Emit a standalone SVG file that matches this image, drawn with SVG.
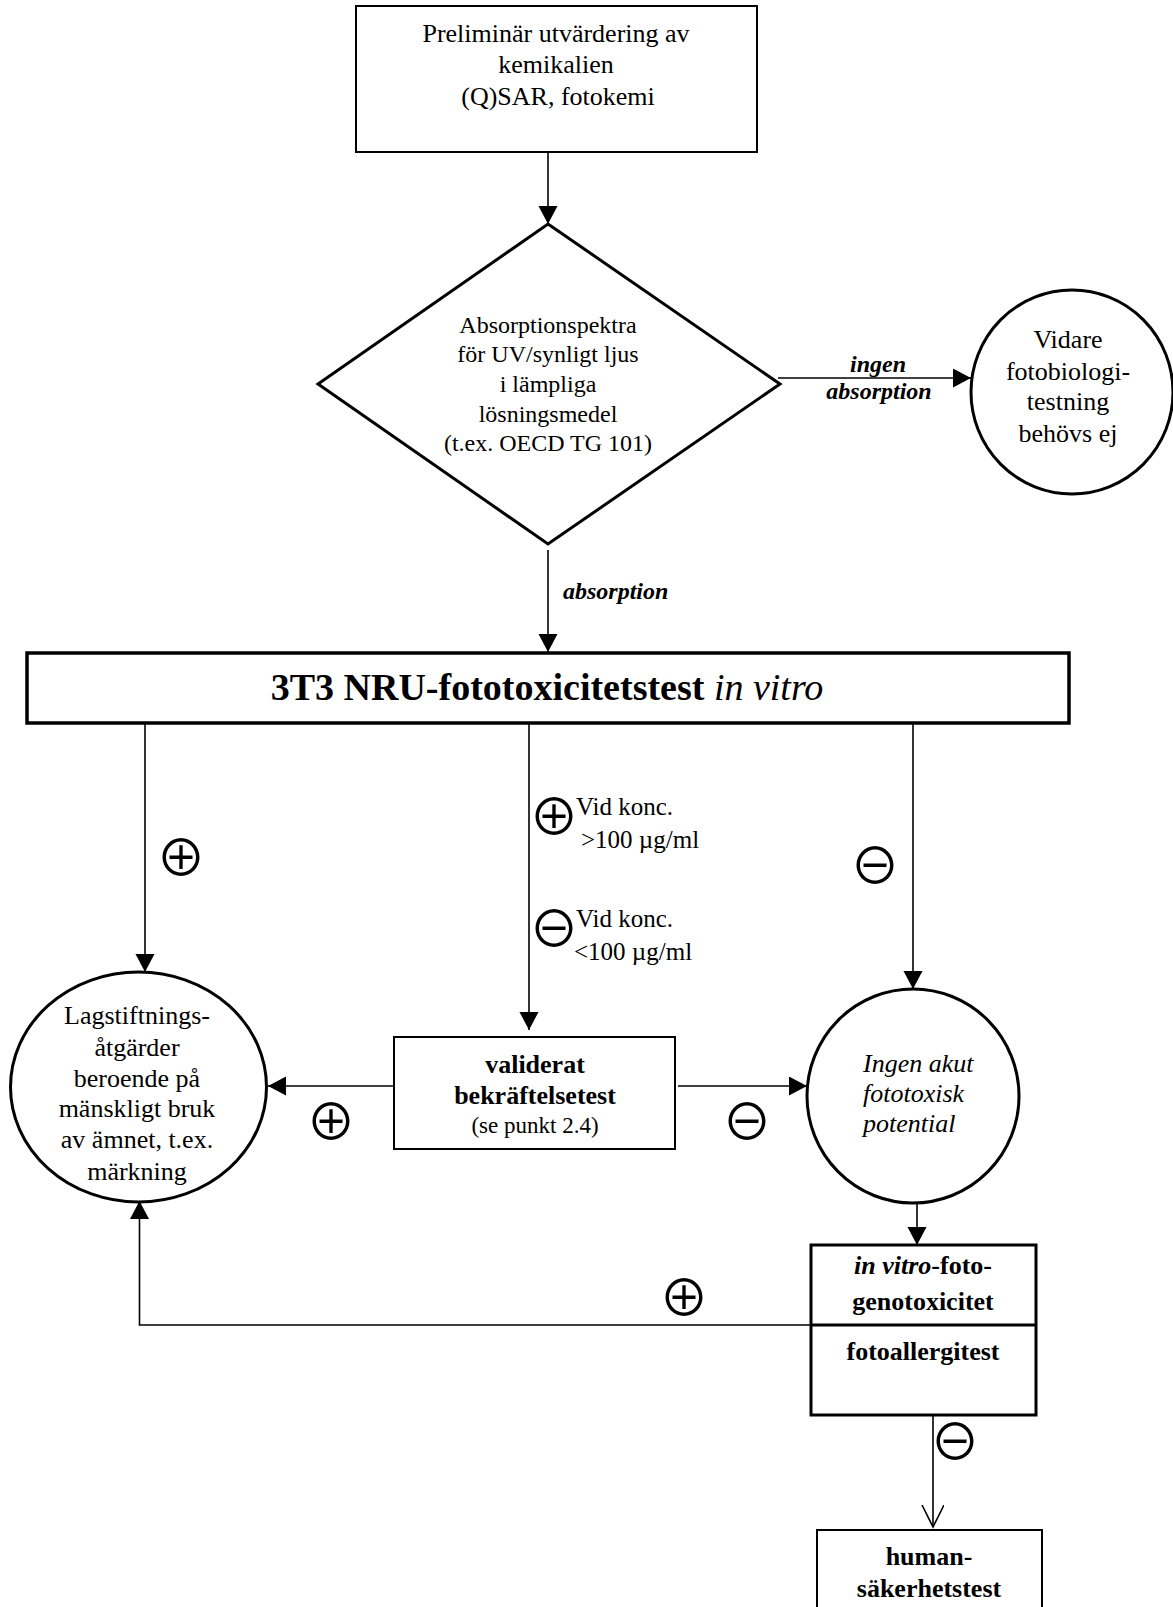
<svg xmlns="http://www.w3.org/2000/svg" width="1173" height="1607" viewBox="0 0 1173 1607">
  <defs>
    <style>
      .box { fill: #fff; stroke: #000; stroke-width: 2; }
      .thick { fill: #fff; stroke: #000; stroke-width: 3.5; }
      .shape { fill: #fff; stroke: #000; stroke-width: 3; }
      .conn { fill: none; stroke: #000; stroke-width: 1.6; }
      .t { font-family: "Liberation Serif", "Times New Roman", serif; fill: #000; text-anchor: middle; }
      .t26 { font-size: 26px; }
      .t24 { font-size: 24px; }
      .it { font-family: "Liberation Serif", "Times New Roman", serif; font-size: 26px; font-style: italic; fill: #000; }
      .lab { font-family: "Liberation Serif", "Times New Roman", serif; font-size: 24px; font-weight: bold; font-style: italic; fill: #000; }
      .note { font-family: "Liberation Serif", "Times New Roman", serif; font-size: 25px; fill: #000; }
      .sign { font-family: "Noto Sans CJK JP", "DejaVu Sans", sans-serif; font-size: 50px; fill: #000; text-anchor: middle; dominant-baseline: central; }
    </style>
    <marker id="arrow" markerUnits="userSpaceOnUse" markerWidth="20" markerHeight="20" refX="18" refY="9.5" orient="auto">
      <path d="M0,0 L18,9.5 L0,19 z" fill="#000"/>
    </marker>
    <marker id="open" markerUnits="userSpaceOnUse" markerWidth="26" markerHeight="26" refX="22" refY="11" orient="auto">
      <path d="M0,0 L22,11 L0,22" fill="none" stroke="#000" stroke-width="1.6"/>
    </marker>
  </defs>

  <rect width="1173" height="1607" fill="#fff"/>

  <!-- connectors -->
  <g id="connectors">
    <line class="conn" x1="548" y1="152" x2="548" y2="224" marker-end="url(#arrow)"/>
    <line class="conn" x1="778" y1="378" x2="971" y2="378" marker-end="url(#arrow)"/>
    <line class="conn" x1="548" y1="550" x2="548" y2="652" marker-end="url(#arrow)"/>
    <line class="conn" x1="145" y1="723" x2="145" y2="972" marker-end="url(#arrow)"/>
    <line class="conn" x1="529" y1="723" x2="529" y2="1030" marker-end="url(#arrow)"/>
    <line class="conn" x1="913" y1="723" x2="913" y2="989" marker-end="url(#arrow)"/>
    <line class="conn" x1="394" y1="1086" x2="268" y2="1086" marker-end="url(#arrow)"/>
    <line class="conn" x1="678" y1="1086" x2="807" y2="1086" marker-end="url(#arrow)"/>
    <line class="conn" x1="917" y1="1203" x2="917" y2="1245" marker-end="url(#arrow)"/>
    <polyline class="conn" points="811,1325 139.5,1325 139.5,1201" marker-end="url(#arrow)"/>
    <line class="conn" x1="933" y1="1415" x2="933" y2="1527" marker-end="url(#open)"/>

    <!-- edge labels -->
    <text class="lab" x="878" y="372" text-anchor="middle">ingen</text>
    <text class="lab" x="879" y="399" text-anchor="middle">absorption</text>
    <text class="lab" x="563" y="599">absorption</text>

    <text class="sign" x="181" y="854">⊕</text>
    <text class="sign" x="554" y="813">⊕</text>
    <text class="note" x="576" y="815">Vid konc.</text>
    <text class="note" x="581" y="848">&gt;100 µg/ml</text>
    <text class="sign" x="554" y="925">⊖</text>
    <text class="note" x="576" y="927">Vid konc.</text>
    <text class="note" x="574" y="960">&lt;100 µg/ml</text>
    <text class="sign" x="875" y="862">⊖</text>
    <text class="sign" x="331" y="1118">⊕</text>
    <text class="sign" x="747" y="1118">⊖</text>
    <text class="sign" x="684" y="1294">⊕</text>
    <text class="sign" x="955" y="1438">⊖</text>
  </g>

  <!-- preliminary evaluation -->
  <g id="prelim">
    <rect class="box" x="356" y="6" width="401" height="146"/>
    <text class="t t26" x="556" y="42">Preliminär utvärdering av</text>
    <text class="t t26" x="556" y="73">kemikalien</text>
    <text class="t t26" x="558" y="105">(Q)SAR, fotokemi</text>
  </g>

  <!-- absorption spectra decision -->
  <g id="spectra">
    <polygon class="shape" points="548,224 780,384 548,544 318,384"/>
    <text class="t t24" x="548" y="333">Absorptionspektra</text>
    <text class="t t24" x="548" y="362">för UV/synligt ljus</text>
    <text class="t t24" x="548" y="392">i lämpliga</text>
    <text class="t t24" x="548" y="422">lösningsmedel</text>
    <text class="t t24" x="548" y="451">(t.ex. OECD TG 101)</text>
  </g>

  <!-- no further testing -->
  <g id="no-further">
    <ellipse class="shape" cx="1072" cy="392" rx="101" ry="102"/>
    <text class="t t26" x="1068" y="348">Vidare</text>
    <text class="t t26" x="1068" y="380">fotobiologi-</text>
    <text class="t t26" x="1068" y="410">testning</text>
    <text class="t t26" x="1068" y="442">behövs ej</text>
  </g>

  <!-- 3T3 NRU test -->
  <g id="nru">
    <rect class="thick" x="27" y="653" width="1042" height="70"/>
    <text class="t" x="547" y="700" font-size="38" font-weight="bold">3T3 NRU-fototoxicitetstest <tspan font-style="italic" font-weight="normal">in vitro</tspan></text>
  </g>

  <!-- regulatory measures -->
  <g id="regulatory">
    <ellipse class="shape" cx="138.5" cy="1087" rx="128" ry="115"/>
    <text class="t t26" x="137" y="1024">Lagstiftnings-</text>
    <text class="t t26" x="137" y="1056">åtgärder</text>
    <text class="t t26" x="137" y="1087">beroende på</text>
    <text class="t t26" x="137" y="1117">mänskligt bruk</text>
    <text class="t t26" x="137" y="1148">av ämnet, t.ex.</text>
    <text class="t t26" x="137" y="1180">märkning</text>
  </g>

  <!-- validated confirmation test -->
  <g id="validated">
    <rect class="box" x="394" y="1037" width="281" height="112"/>
    <text class="t t26" x="535" y="1073" font-weight="bold">validerat</text>
    <text class="t t26" x="535" y="1104" font-weight="bold">bekräftelsetest</text>
    <text class="t" x="535" y="1133" font-size="23">(se punkt 2.4)</text>
  </g>

  <!-- no acute phototoxic potential -->
  <g id="no-acute">
    <ellipse class="shape" cx="913" cy="1096" rx="106" ry="107"/>
    <text class="it" x="863" y="1072">Ingen akut</text>
    <text class="it" x="863" y="1102">fototoxisk</text>
    <text class="it" x="863" y="1132">potential</text>
  </g>

  <!-- photogenotoxicity / photoallergy tests -->
  <g id="photo-tests">
    <rect class="shape" x="811" y="1245" width="225" height="170"/>
    <line x1="811" y1="1325" x2="1036" y2="1325" stroke="#000" stroke-width="3"/>
    <text class="t t26" x="923" y="1274" font-weight="bold"><tspan font-style="italic">in vitro</tspan>-foto-</text>
    <text class="t t26" x="923" y="1310" font-weight="bold">genotoxicitet</text>
    <text class="t t26" x="923" y="1360" font-weight="bold">fotoallergitest</text>
  </g>

  <!-- human safety test -->
  <g id="human">
    <rect class="box" x="817" y="1530" width="225" height="100"/>
    <text class="t t26" x="929" y="1565" font-weight="bold">human-</text>
    <text class="t t26" x="929" y="1597" font-weight="bold">säkerhetstest</text>
  </g>
</svg>
